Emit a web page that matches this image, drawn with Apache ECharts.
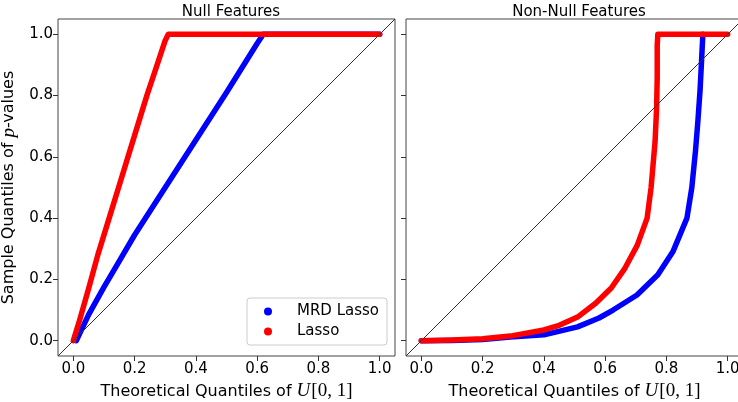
<!DOCTYPE html>
<html>
<head>
<meta charset="utf-8">
<script src="https://cdn.jsdelivr.net/npm/echarts@6/dist/echarts.min.js"></script>
<style>
  html, body { margin: 0; padding: 0; background: #fff; overflow: hidden; }
  #chart { width: 738px; height: 402px; }
</style>
</head>
<body>
<div id="chart"></div>
<script>
// tick labels shared by both panels
const ticks = [0, 0.2, 0.4, 0.6, 0.8, 1.0];
const diag = [-0.05, 1.05];

// Null features
const nullMrdX = [0.01, 0.05, 0.10, 0.15, 0.20, 0.30, 0.40, 0.50, 0.60, 0.62, 0.80, 1.0];
const nullMrdY = [0.00, 0.085, 0.175, 0.26, 0.345, 0.50, 0.655, 0.81, 0.97, 1.00, 1.00, 1.0];
const nullLassoX = [0.00, 0.02, 0.05, 0.08, 0.12, 0.16, 0.20, 0.24, 0.27, 0.29, 0.30, 0.31, 0.50, 0.70, 1.0];
const nullLassoY = [0.00, 0.065, 0.17, 0.28, 0.41, 0.54, 0.67, 0.80, 0.89, 0.95, 0.98, 1.00, 1.00, 1.00, 1.0];

// Non-null features
const nonMrdX = [0.00, 0.10, 0.20, 0.29, 0.40, 0.51, 0.58, 0.626, 0.704, 0.772, 0.821, 0.867, 0.883, 0.895, 0.903, 0.910, 0.915, 0.919];
const nonMrdY = [0.00, 0.001, 0.004, 0.012, 0.019, 0.045, 0.074, 0.100, 0.149, 0.215, 0.290, 0.400, 0.500, 0.620, 0.720, 0.820, 0.920, 1.000];
const nonLassoX = [0.00, 0.10, 0.20, 0.29, 0.40, 0.45, 0.51, 0.57, 0.62, 0.665, 0.705, 0.737, 0.750, 0.763, 0.768, 0.770, 0.770, 0.770, 0.772, 0.85, 1.0];
const nonLassoY = [0.00, 0.002, 0.006, 0.015, 0.035, 0.050, 0.077, 0.123, 0.172, 0.237, 0.312, 0.400, 0.500, 0.650, 0.760, 0.860, 0.906, 0.965, 1.000, 1.00, 1.0];

const pairs = (xs, ys) => xs.map((x, i) => [x, ys[i]]);

const chart = echarts.init(document.getElementById('chart'), null, { renderer: 'canvas' });

const font = 'DejaVu Sans';
function xAxis(idx) {
  return {
    gridIndex: idx, type: 'value', min: -0.05, max: 1.05,
    name: 'Theoretical Quantiles of {m|U}{n|[0, 1]}',
    nameLocation: 'middle', nameGap: 25,
    nameTextStyle: {
      fontFamily: font, fontSize: 16, color: '#000',
      rich: {
        m: { fontFamily: 'Liberation Serif', fontStyle: 'italic', fontSize: 19, color: '#000' },
        n: { fontFamily: 'Liberation Serif', fontSize: 19, color: '#000', padding: [0, 0, 0, 1] }
      }
    },
    axisLine: { show: false, onZero: false },
    axisTick: { show: true, length: 5, lineStyle: { color: '#333' }, customValues: ticks },
    axisLabel: { customValues: ticks, formatter: v => v.toFixed(1), fontFamily: font, fontSize: 15, color: '#000', margin: 6 },
    splitLine: { show: false }
  };
}
function yAxis(idx) {
  return {
    gridIndex: idx, type: 'value', min: -0.05, max: 1.05,
    name: idx === 0 ? 'Sample Quantiles of {i|p}-values' : '',
    nameLocation: 'middle', nameGap: 40,
    nameTextStyle: {
      fontFamily: font, fontSize: 16, color: '#000',
      rich: { i: { fontFamily: 'Liberation Serif', fontStyle: 'italic', fontSize: 19, color: '#000' } }
    },
    axisLine: { show: false, onZero: false },
    axisTick: { show: true, length: 5, lineStyle: { color: '#333' }, customValues: ticks },
    axisLabel: { show: idx === 0, customValues: ticks, formatter: v => v.toFixed(1), fontFamily: font, fontSize: 15, color: '#000', margin: 5 },
    splitLine: { show: false }
  };
}

function pts(name, data, color, idx) {
  return {
    name, type: 'line', xAxisIndex: idx, yAxisIndex: idx, data,
    showSymbol: false, symbol: 'circle', symbolSize: 5,
    lineStyle: { color, width: 5.5, cap: 'round', join: 'round' },
    itemStyle: { color }, z: 2, animation: false
  };
}
function diagLine(idx) {
  return {
    type: 'line', xAxisIndex: idx, yAxisIndex: idx, data: diag.map(v => [v, v]),
    showSymbol: false, lineStyle: { color: '#333', width: 1 }, z: 5, silent: true, animation: false
  };
}

const option = {
  backgroundColor: '#fff',
  animation: false,
  title: [
    { text: 'Null Features', left: 226, top: 0, textAlign: 'center', textStyle: { fontFamily: font, fontSize: 15, fontWeight: 'normal', color: '#000' } },
    { text: 'Non-Null Features', left: 574, top: 0, textAlign: 'center', textStyle: { fontFamily: font, fontSize: 15, fontWeight: 'normal', color: '#000' } }
  ],
  grid: [
    { left: 58, top: 19, width: 337, height: 337, outerBoundsMode: 'none', show: true, borderColor: '#444', borderWidth: 1, backgroundColor: 'transparent' },
    { left: 406, top: 19, width: 337, height: 337, outerBoundsMode: 'none', show: true, borderColor: '#444', borderWidth: 1, backgroundColor: 'transparent' }
  ],
  xAxis: [xAxis(0), xAxis(1)],
  yAxis: [yAxis(0), yAxis(1)],
  legend: {
    orient: 'vertical', left: 247, top: 298,
    data: ['MRD Lasso', 'Lasso'], icon: 'circle', itemWidth: 8, itemHeight: 8, itemGap: 5,
    padding: [6, 8, 6, 17],
    backgroundColor: 'rgba(255,255,255,0.8)', borderColor: '#ccc', borderWidth: 1, borderRadius: 3,
    textStyle: { fontFamily: font, fontSize: 15, color: '#000', padding: [0, 0, 0, 20] }
  },
  series: [
    pts('MRD Lasso', pairs(nullMrdX, nullMrdY), '#0000ff', 0),
    pts('Lasso', pairs(nullLassoX, nullLassoY), '#ff0000', 0),
    diagLine(0),
    pts('MRD Lasso', pairs(nonMrdX, nonMrdY), '#0000ff', 1),
    pts('Lasso', pairs(nonLassoX, nonLassoY), '#ff0000', 1),
    diagLine(1)
  ]
};

chart.setOption(option);
</script>
</body>
</html>
